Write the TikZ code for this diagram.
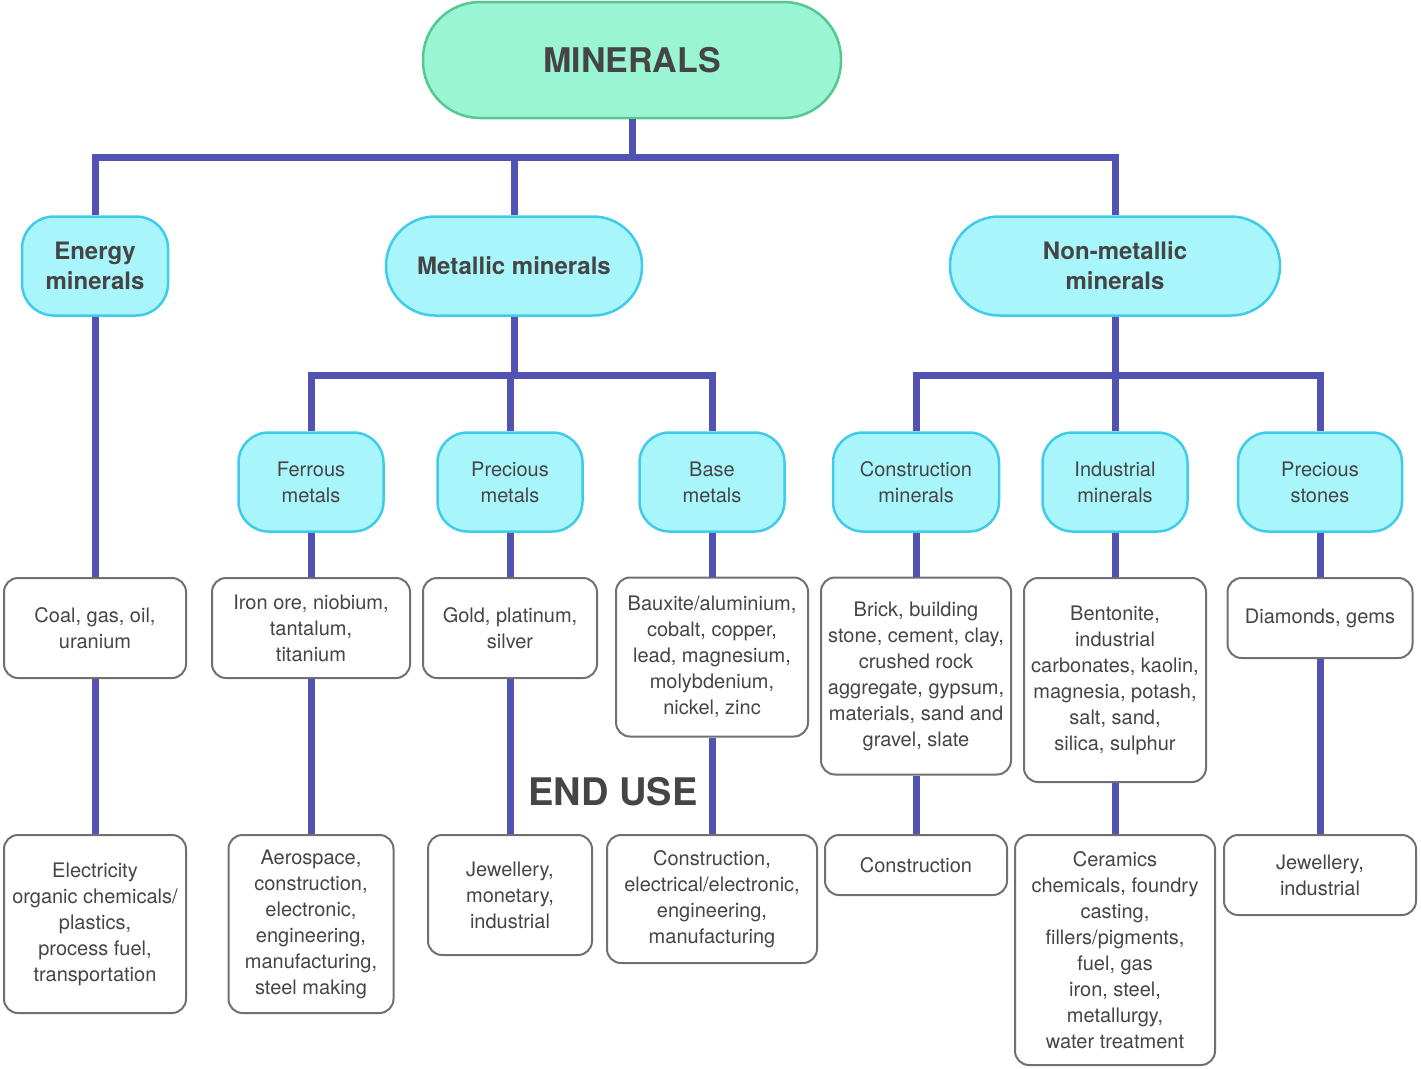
\documentclass[tikz,border=0pt]{standalone}
\usepackage{fontspec}
\setmainfont{TeX Gyre Heros}
\usetikzlibrary{positioning,calc}
\definecolor{linkblue}{HTML}{5252B2}
\definecolor{mintfill}{HTML}{9AF5D5}
\definecolor{mintline}{HTML}{55C88E}
\definecolor{cyanfill}{HTML}{A8F5FB}
\definecolor{cyanline}{HTML}{3FCCEB}
\definecolor{boxline}{HTML}{707070}
\definecolor{txtgrey}{HTML}{454545}
\tikzset{font=\fontsize{20}{26}\selectfont}

\begin{document}
\begin{tikzpicture}[x=1pt,y=-1pt]
	\useasboundingbox (0,0) rectangle (1421,1068);
	\begin{scope}
		\tikzstyle{every node}=[align=center, inner sep=1pt, text=txtgrey]
		\tikzstyle{top}=[draw=mintline, fill=mintfill, line width=2.5pt, rounded corners=57pt, minimum width=418pt, minimum height=116pt, font=\fontsize{34}{40}\selectfont\bfseries]
		\tikzstyle{group}=[draw=cyanline, fill=cyanfill, line width=2.5pt, minimum height=99pt, font=\fontsize{24}{30}\selectfont\bfseries]
		\tikzstyle{sub}=[draw=cyanline, fill=cyanfill, line width=2.5pt, rounded corners=30pt, minimum width=145pt, minimum height=99pt]
		\tikzstyle{item}=[draw=boxline, fill=white, line width=2pt, rounded corners=14pt]
		\tikzstyle{link}=[draw=linkblue, line width=7pt]

		% classes
		\node[top] (min) at (632,60) {MINERALS};
		\node[group, rounded corners=32pt, minimum width=146pt] (energy) at (95,266) {Energy\\minerals};
		\node[group, rounded corners=49pt, minimum width=256pt] (metal) at (514,266) {Metallic minerals};
		\node[group, rounded corners=49pt, minimum width=330pt] (nonmet) at (1115,266) {Non-metallic\\minerals};

		\node[sub] (ferrous) at (311,482) {Ferrous\\metals};
		\node[sub] (precious) at (510,482) {Precious\\metals};
		\node[sub] (base) at (712,482) {Base\\metals};
		\node[sub, minimum width=166pt] (constr) at (916,482) {Construction\\minerals};
		\node[sub] (indus) at (1115,482) {Industrial\\minerals};
		\node[sub, minimum width=164pt] (stones) at (1320,482) {Precious\\stones};

		% minerals
		\node[item, minimum width=182pt, minimum height=100pt] (coal) at (95,628) {Coal, gas, oil,\\uranium};
		\node[item, minimum width=198pt, minimum height=100pt] (iron) at (311,628) {Iron ore, niobium,\\tantalum,\\titanium};
		\node[item, minimum width=174pt, minimum height=100pt] (gold) at (510,628) {Gold, platinum,\\silver};
		\node[item, minimum width=192pt, minimum height=159pt] (baux) at (712,657) {Bauxite/aluminium,\\cobalt, copper,\\lead, magnesium,\\molybdenium,\\nickel, zinc};
		\node[item, minimum width=190pt, minimum height=197pt] (brick) at (916,676) {Brick, building\\stone, cement, clay,\\crushed rock\\aggregate, gypsum,\\materials, sand and\\gravel, slate};
		\node[item, minimum width=182pt, minimum height=204pt] (bento) at (1115,680) {Bentonite,\\industrial\\carbonates, kaolin,\\magnesia, potash,\\salt, sand,\\silica, sulphur};
		\node[item, minimum width=185pt, minimum height=80pt] (diam) at (1320,618) {Diamonds, gems};

		% end use
		\node[font=\fontsize{38}{44}\selectfont\bfseries] (enduse) at (613,792) {END USE};
		\node[item, minimum width=182pt, minimum height=178pt] (elec) at (95,924) {Electricity\\organic chemicals/\\plastics,\\process fuel,\\transportation};
		\node[item, minimum width=165pt, minimum height=178pt] (aero) at (311,924) {Aerospace,\\construction,\\electronic,\\engineering,\\manufacturing,\\steel making};
		\node[item, minimum width=164pt, minimum height=120pt] (jewel) at (510,895) {Jewellery,\\monetary,\\industrial};
		\node[item, minimum width=210pt, minimum height=128pt] (conelec) at (712,899) {Construction,\\electrical/electronic,\\engineering,\\manufacturing};
		\node[item, minimum width=182pt, minimum height=60pt] (cons) at (916,865) {Construction};
		\node[item, minimum width=200pt, minimum height=230pt] (cera) at (1115,950) {Ceramics\\chemicals, foundry\\casting,\\fillers/pigments,\\fuel, gas\\iron, steel,\\metallurgy,\\water treatment};
		\node[item, minimum width=192pt, minimum height=80pt] (jewind) at (1320,875) {Jewellery,\\industrial};

		\coordinate (j1) at (632,157);
		\coordinate (j2) at (514,375);
		\coordinate (j3) at (1115,375);

		\draw[link] (min) -- (j1) -| (energy);
		\draw[link] (j1) -| (metal);
		\draw[link] (j1) -| (nonmet);
		\draw[link] (metal) -- (j2);
		\draw[link] (j2) -| (ferrous);
		\draw[link] (j2) -| (precious);
		\draw[link] (j2) -| (base);
		\draw[link] (nonmet) -- (j3);
		\draw[link] (j3) -| (constr);
		\draw[link] (j3) -| (indus);
		\draw[link] (j3) -| (stones);

		\draw[link] (energy) -- (coal);
		\draw[link] (ferrous) -- (iron);
		\draw[link] (precious) -- (gold);
		\draw[link] (base) -- (baux);
		\draw[link] (constr) -- (brick);
		\draw[link] (indus) -- (bento);
		\draw[link] (stones) -- (diam);

		\draw[link] (coal) -- (elec);
		\draw[link] (iron) -- (aero);
		\draw[link] (gold) -- (jewel);
		\draw[link] (baux) -- (conelec);
		\draw[link] (brick) -- (cons);
		\draw[link] (bento) -- (cera);
		\draw[link] (diam) -- (jewind);
	\end{scope}
\end{tikzpicture}
\end{document}
